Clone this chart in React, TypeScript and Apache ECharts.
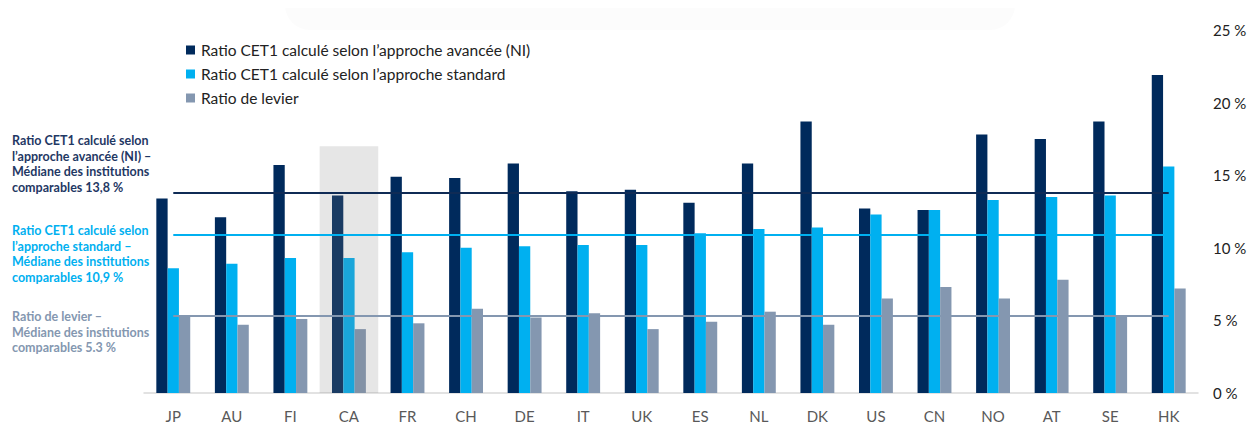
import React, { useEffect, useRef } from "react";
import * as echarts from "echarts";

const categories = ["JP", "AU", "FI", "CA", "FR", "CH", "DE", "IT", "UK", "ES", "NL", "DK", "US", "CN", "NO", "AT", "SE", "HK"];
const cet1Advanced = [13.4, 12.1, 15.7, 13.6, 14.9, 14.8, 15.8, 13.9, 14.0, 13.1, 15.8, 18.7, 12.7, 12.6, 17.8, 17.5, 18.7, 21.9];
const cet1Standard = [8.6, 8.9, 9.3, 9.3, 9.7, 10.0, 10.1, 10.2, 10.2, 11.0, 11.3, 11.4, 12.3, 12.6, 13.3, 13.5, 13.6, 15.6];
const leverage = [5.3, 4.7, 5.1, 4.4, 4.8, 5.8, 5.2, 5.5, 4.4, 4.9, 5.6, 4.7, 6.5, 7.3, 6.5, 7.8, 5.3, 7.2];
const highlightCategory = "CA";
const highlightHeight = 17;
const medianAdvanced = 13.8;
const medianStandard = 10.9;
const medianLeverage = 5.3;
const seriesNames = [
  "Ratio CET1 calculé selon l’approche avancée (NI)",
  "Ratio CET1 calculé selon l’approche standard",
  "Ratio de levier",
];
const annotations = [
  "Ratio CET1 calculé selon\nl’approche avancée (NI) –\nMédiane des institutions\ncomparables 13,8 %",
  "Ratio CET1 calculé selon\nl’approche standard –\nMédiane des institutions\ncomparables 10,9 %",
  "Ratio de levier –\nMédiane des institutions\ncomparables 5.3 %",
];

const NAVY = "#002a5c";
const CYAN = "#00b0f0";
const GREY = "#8497b0";
const FONT = "Lato, 'Open Sans', sans-serif";

export default function App() {
  const ref = useRef<HTMLDivElement>(null);
  useEffect(() => {
    if (!ref.current) return;
    const chart = echarts.init(ref.current, null, { renderer: "svg" });
    const first = categories[0];
    const last = categories[categories.length - 1];
    const medLine = (v: number, color: string) => [
      { coord: [first, v], lineStyle: { color, width: 2.2, type: "solid" } },
      { coord: [last, v] },
    ];
    chart.setOption({
      animation: false,
      textStyle: { fontFamily: FONT },
      grid: { left: 144, right: 60, top: 30, bottom: 44 },
      legend: {
        data: seriesNames,
        orient: "vertical",
        left: 181,
        top: 37,
        icon: "rect",
        itemWidth: 9,
        itemHeight: 9,
        itemGap: 8,
        textStyle: { fontSize: 15.5, color: "#222", fontFamily: FONT, padding: [0, 0, 0, 1] },
      },
      xAxis: [
        {
          type: "category",
          data: categories,
          axisLine: { lineStyle: { color: "#d9d9d9", width: 1.5 } },
          axisTick: { show: false },
          axisLabel: { color: "#595959", fontSize: 15, margin: 15, fontFamily: FONT },
        },
        {
          type: "category",
          data: categories,
          show: false,
        },
      ],
      yAxis: {
        type: "value",
        position: "right",
        min: 0,
        max: 25,
        interval: 5,
        splitLine: { show: false },
        axisLine: { show: false },
        axisTick: { show: false },
        axisLabel: { color: "#222", fontSize: 15, margin: 15, fontFamily: FONT, formatter: (v: number) => `${v} %` },
      },
      series: [
        {
          name: seriesNames[0],
          type: "bar",
          data: cet1Advanced,
          barWidth: 11.3,
          barGap: "0%",
          itemStyle: { color: NAVY },
          z: 2,
        },
        {
          name: seriesNames[1],
          type: "bar",
          data: cet1Standard,
          barWidth: 11.3,
          barGap: "0%",
          itemStyle: { color: CYAN },
          z: 2,
        },
        {
          name: seriesNames[2],
          type: "bar",
          data: leverage,
          barWidth: 11.3,
          barGap: "0%",
          itemStyle: { color: GREY },
          z: 2,
        },
        {
          name: "highlight",
          type: "bar",
          xAxisIndex: 1,
          data: categories.map((c) => (c === highlightCategory ? highlightHeight : null)),
          barWidth: "100%",
          itemStyle: { color: "rgba(132,132,132,0.2)" },
          z: 3,
          silent: true,
        },
        {
          name: "medians",
          type: "line",
          data: [],
          z: 5,
          markLine: {
            silent: true,
            symbol: "none",
            label: { show: false },
            data: [
              medLine(medianAdvanced, "#0f2b55"),
              medLine(medianStandard, CYAN),
              medLine(medianLeverage, GREY),
            ],
          },
        },
      ],
      graphic: [
        {
          type: "rect",
          shape: { x: 285, y: -25, width: 730, height: 55, r: 25 },
          style: { fill: "#fcfcfc" },
          z: -10,
        },
        {
          type: "text",
          left: 12,
          top: 133,
          style: { text: annotations[0], fill: "#1f3864", font: `bold 12.5px ${FONT}`, lineHeight: 15.5 },
        },
        {
          type: "text",
          left: 12,
          top: 223,
          style: { text: annotations[1], fill: CYAN, font: `bold 12.5px ${FONT}`, lineHeight: 15.5 },
        },
        {
          type: "text",
          left: 12,
          top: 309,
          style: { text: annotations[2], fill: GREY, font: `bold 12.5px ${FONT}`, lineHeight: 15.5 },
        },
      ],
    });
    return () => chart.dispose();
  }, []);
  return <div ref={ref} style={{ width: 1258, height: 437, margin: -8 }} />;
}
